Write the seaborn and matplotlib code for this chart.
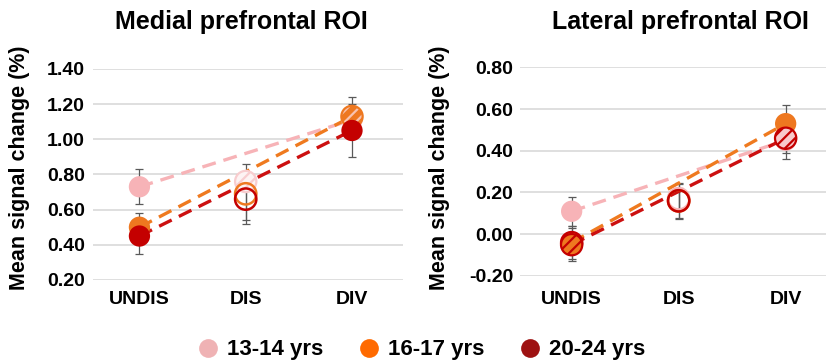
import numpy as np
import pandas as pd
import matplotlib
matplotlib.use("Agg")
import matplotlib.pyplot as plt
import seaborn as sns
from matplotlib.lines import Line2D

# ---------------- data ----------------
conditions = ["UNDIS", "DIS", "DIV"]
groups = ["13-14 yrs", "16-17 yrs", "20-24 yrs"]

medial_1314 = [0.73, 0.76, 1.11]
medial_1617 = [0.50, 0.69, 1.13]
medial_2024 = [0.45, 0.66, 1.05]
medial_err_1314 = [0.10, 0.04, 0.06]
medial_err_1617 = [0.08, 0.17, 0.11]
medial_err_2024 = [0.10, 0.12, 0.15]

lateral_1314 = [0.11, 0.17, 0.45]
lateral_1617 = [-0.04, 0.16, 0.53]
lateral_2024 = [-0.05, 0.16, 0.46]
lateral_err_1314 = [0.07, 0.05, 0.06]
lateral_err_1617 = [0.08, 0.08, 0.09]
lateral_err_2024 = [0.08, 0.085, 0.10]

medial_ticks = [0.2, 0.4, 0.6, 0.8, 1.0, 1.2, 1.4]
lateral_ticks = [-0.2, 0.0, 0.2, 0.4, 0.6, 0.8]

# ---------------- styles ----------------
sns.set_theme(style="white")
plt.rcParams["font.family"] = ["Liberation Sans", "DejaVu Sans"]
plt.rcParams["font.weight"] = "bold"
plt.rcParams["hatch.linewidth"] = 1.6
for k in ["text.color", "axes.labelcolor", "xtick.color", "ytick.color"]:
    plt.rcParams[k] = "black"

PINK = "#f7b3b7"
ORANGE = "#ee7820"
RED = "#c40000"
line_colors = {"13-14 yrs": "#f7b3b7", "16-17 yrs": "#ef7a1f", "20-24 yrs": "#cc1010"}
legend_colors = {"13-14 yrs": "#efb2b4", "16-17 yrs": "#ff6a00", "20-24 yrs": "#9e1212"}
base_colors = {"13-14 yrs": PINK, "16-17 yrs": ORANGE, "20-24 yrs": RED}

# marker style keys per point
medial_styles = {
    "13-14 yrs": ["solid", "palehatch", "solid"],
    "16-17 yrs": ["solid", "open", "lighthatch"],
    "20-24 yrs": ["solid", "open", "solid"],
}
lateral_styles = {
    "13-14 yrs": ["solid", "open", "solid"],
    "16-17 yrs": ["darkhatch", "open", "solid"],
    "20-24 yrs": ["darkhatch", "open", "pinkhatch"],
}

def rows(panel, vals_list, errs_list):
    out = []
    for g, vals, errs in zip(groups, vals_list, errs_list):
        for i, c in enumerate(conditions):
            out.append(dict(panel=panel, group=g, cond=c, x=i, y=vals[i], err=errs[i]))
    return out

df = pd.DataFrame(
    rows("medial", [medial_1314, medial_1617, medial_2024],
         [medial_err_1314, medial_err_1617, medial_err_2024])
    + rows("lateral", [lateral_1314, lateral_1617, lateral_2024],
           [lateral_err_1314, lateral_err_1617, lateral_err_2024])
)

S = 235  # marker area (pt^2)

def draw_marker(ax, x, y, group, style, z):
    col = base_colors[group]
    kw = dict(s=S, marker="o", clip_on=False)
    if style == "solid":
        ax.scatter([x], [y], facecolor=col, edgecolor="none", zorder=z, **kw)
    elif style == "open":
        ax.scatter([x], [y], facecolor="none", edgecolor=col, linewidth=1.8, zorder=z, **kw)
    else:
        if style == "palehatch":
            face, hcol, edge = "#fdf3f3", "#f8cdcf", "#f8cdcf"
        elif style == "lighthatch":
            face, hcol, edge = ORANGE, "#f8c3b0", ORANGE
        elif style == "darkhatch":
            face, hcol, edge = ORANGE, RED, RED
        else:  # pinkhatch
            face, hcol, edge = "#f8c9cb", RED, RED
        ax.scatter([x], [y], facecolor=face, edgecolor="none", zorder=z, **kw)
        ax.scatter([x], [y], facecolor="none", edgecolor=hcol, linewidth=0,
                   hatch="///", zorder=z + 0.01, **kw)
        ax.scatter([x], [y], facecolor="none", edgecolor=edge, linewidth=1.6,
                   zorder=z + 0.02, **kw)

def draw_panel(ax, panel, styles, ticks):
    d = df[df.panel == panel]
    for gi, g in enumerate(groups):
        dg = d[d.group == g]
        # dashed line between first and last condition
        ends = dg[dg.cond.isin(["UNDIS", "DIV"])]
        sns.lineplot(data=ends, x="x", y="y", ax=ax, color=line_colors[g],
                     lw=2.4, linestyle=(0, (4.2, 2.4)), zorder=2 + gi * 0.1,
                     estimator=None, sort=True, legend=False)
        ax.errorbar(dg.x, dg.y, yerr=dg.err, fmt="none", ecolor="#5a5a5a",
                    elinewidth=0.9, capsize=3, capthick=0.9, zorder=1.5, clip_on=False)
    for gi, g in enumerate(groups):
        dg = d[d.group == g]
        for (_, r) in dg.iterrows():
            draw_marker(ax, r.x, r.y, g, styles[g][int(r.x)], 3 + gi)
    ax.set_ylim(ticks[0], ticks[-1])
    ax.set_yticks(ticks)
    ax.set_yticklabels([f"{t:.2f}" for t in ticks], fontsize=14, fontweight="bold")
    ax.set_xticks(range(len(conditions)))
    ax.set_xticklabels(conditions, fontsize=14, fontweight="bold")
    ax.grid(axis="y", color="#d9d9d9", lw=1.2)
    ax.grid(axis="x", visible=False)
    for s in ax.spines.values():
        s.set_visible(False)
    ax.tick_params(length=0)
    ax.set_xlabel("")
    ax.set_ylabel("")

fig = plt.figure(figsize=(8.26, 3.63), dpi=100)
axL = fig.add_axes([0.1122, 0.2287, 0.3757, 0.5813])
axR = fig.add_axes([0.6295, 0.2397, 0.3705, 0.5750])

draw_panel(axL, "medial", medial_styles, medial_ticks)
draw_panel(axR, "lateral", lateral_styles, lateral_ticks)
axL.set_xlim(-0.44, 2.48)
axR.set_xlim(-0.483, 2.377)
axL.tick_params(axis="y", pad=5.5)
axL.tick_params(axis="x", pad=8)
axR.tick_params(axis="y", pad=5)
axR.tick_params(axis="x", pad=11)

fig.text(241 / 826, 1 - 22 / 363, "Medial prefrontal ROI", ha="center", va="center",
         fontsize=18, fontweight="bold")
fig.text(680 / 826, 1 - 22 / 363, "Lateral prefrontal ROI", ha="center", va="center",
         fontsize=18, fontweight="bold")
fig.text(20 / 826, 1 - 168 / 363, "Mean signal change (%)", rotation=90, ha="center",
         va="center", fontsize=15.5, fontweight="bold")
fig.text(440 / 826, 1 - 168 / 363, "Mean signal change (%)", rotation=90, ha="center",
         va="center", fontsize=15.5, fontweight="bold")

handles = [Line2D([], [], marker="o", linestyle="", markersize=13.5,
                  markerfacecolor=legend_colors[g], markeredgecolor="none") for g in groups]
fig.legend(handles, groups, loc="center", bbox_to_anchor=(0.511, 1 - 350 / 363),
           ncol=3, frameon=False, prop=dict(size=16, weight="bold"),
           handlelength=0.8, handletextpad=0.45, columnspacing=1.65, borderpad=0)

fig.savefig("out.png", dpi=100)
